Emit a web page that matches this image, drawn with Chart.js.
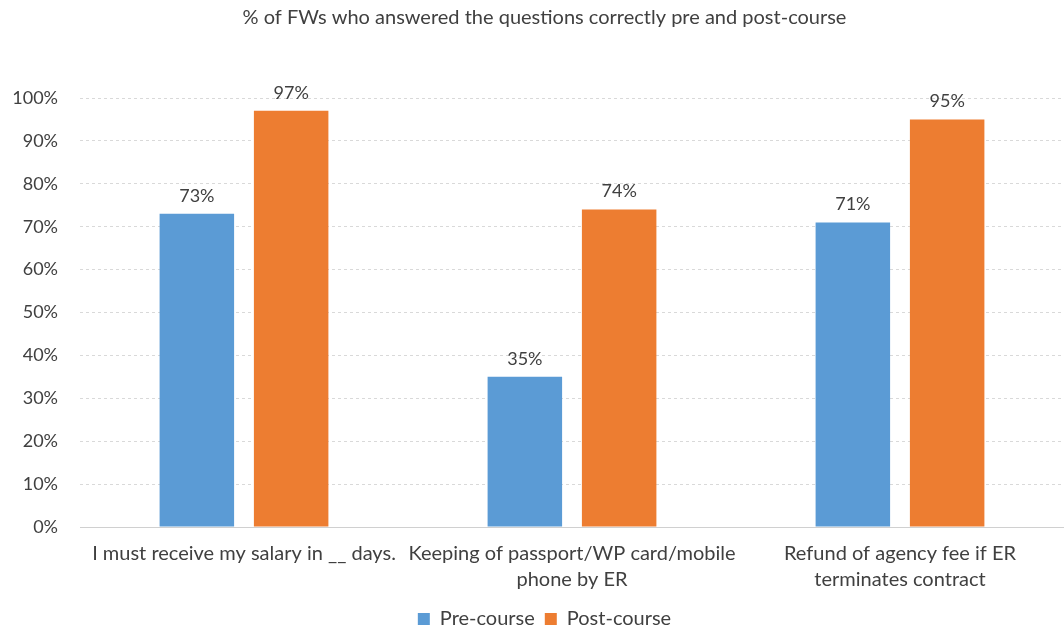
<!DOCTYPE html>
<html>
<head>
<meta charset="utf-8">
<script src="https://cdn.jsdelivr.net/npm/chart.js@4"></script>
<style>
  html, body { margin: 0; padding: 0; background: #fff; }
  #wrap { width: 1064px; height: 630px; overflow: hidden; }
</style>
</head>
<body>
<div id="wrap"><canvas id="chart" width="1064" height="630"></canvas></div>
<script>
const chartTitle = "% of FWs who answered the questions correctly pre and post-course";
const categories = [
  ["I must receive my salary in __ days."],
  ["Keeping of passport/WP card/mobile", "phone by ER"],
  ["Refund of agency fee if ER", "terminates contract"],
];
const preCourse = [73, 35, 71];
const postCourse = [97, 74, 95];
const seriesNames = ["Pre-course", "Post-course"];

const FONT = "Lato, 'Open Sans', sans-serif";

// draws the value above each bar
const barValueLabels = {
  id: "barValueLabels",
  afterDatasetsDraw(chart) {
    const ctx = chart.ctx;
    ctx.save();
    ctx.font = `18px ${FONT}`;
    ctx.fillStyle = "#404040";
    ctx.textAlign = "center";
    ctx.textBaseline = "bottom";
    chart.data.datasets.forEach((ds, i) => {
      chart.getDatasetMeta(i).data.forEach((bar, j) => {
        ctx.fillText(`${ds.data[j]}%`, bar.x, bar.y - 9);
      });
    });
    ctx.restore();
  },
};

function initChart() {
  const ctx = document.getElementById("chart").getContext("2d");
  return new Chart(ctx, {
    type: "bar",
    data: {
      labels: categories,
      datasets: [
        {
          label: seriesNames[0],
          data: preCourse,
          backgroundColor: "#5B9BD5",
          categoryPercentage: 0.575,
          barPercentage: 0.79,
        },
        {
          label: seriesNames[1],
          data: postCourse,
          backgroundColor: "#ED7D31",
          categoryPercentage: 0.575,
          barPercentage: 0.79,
        },
      ],
    },
    options: {
      responsive: false,
      animation: false,
      layout: { padding: { left: 8, right: -17, top: 0, bottom: -9 } },
      plugins: {
        title: {
          display: true,
          text: chartTitle,
          color: "#404040",
          font: { family: FONT, size: 20, weight: "normal" },
          padding: { top: 6, bottom: 68 },
        },
        legend: {
          position: "bottom",
          labels: {
            color: "#404040",
            font: { family: FONT, size: 20 },
            boxWidth: 12,
            boxHeight: 12,
            padding: 10,
          },
        },
        tooltip: { enabled: false },
      },
      scales: {
        y: {
          min: 0,
          max: 100,
          afterFit: (scale) => {
            scale.width = 72;
          },
          ticks: {
            stepSize: 10,
            color: "#404040",
            font: { family: FONT, size: 18 },
            padding: 22,
            callback: (v) => `${v}%`,
          },
          grid: {
            color: (c) => (c.tick.value === 0 ? "#d0d0d0" : "#d9d9d9"),
            drawTicks: false,
          },
          border: { display: false, dash: [3, 3] },
        },
        x: {
          afterFit: (scale) => {
            scale.paddingLeft = 0;
            scale.paddingRight = 0;
          },
          ticks: {
            color: "#404040",
            font: { family: FONT, size: 20, lineHeight: 1.3 },
            padding: 6,
            maxRotation: 0,
            autoSkip: false,
          },
          grid: { display: false },
          border: { color: "#d0d0d0" },
        },
      },
    },
    plugins: [barValueLabels],
  });
}

initChart();
</script>
</body>
</html>
